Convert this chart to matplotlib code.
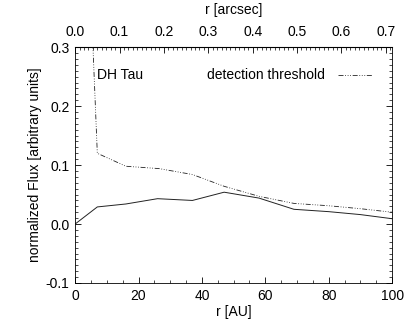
import numpy as np
import matplotlib.pyplot as plt
from matplotlib.ticker import MultipleLocator, FixedLocator, FormatStrFormatter

plt.rcParams['font.family'] = ['Liberation Sans', 'DejaVu Sans']
plt.rcParams['font.size'] = 10

# DH Tau radial profile (AU, normalized flux)
r_au = [0, 7, 16, 26, 37, 47, 58, 69, 80, 90, 100]
flux = [0.0, 0.029, 0.034, 0.043, 0.040, 0.054, 0.044, 0.025, 0.021, 0.016, 0.009]

# detection threshold
r_thr = [5.4, 7, 16, 26.5, 37, 47, 58, 69, 80, 90, 100]
thr = [0.33, 0.12, 0.098, 0.094, 0.084, 0.064, 0.047, 0.035, 0.031, 0.026, 0.020]

# top axis ticks (arcsec)
arcsec_ticks = [0.0, 0.1, 0.2, 0.3, 0.4, 0.5, 0.6, 0.7]

dist_pc = 140.0  # AU per arcsec

fig = plt.figure(figsize=(4.15, 3.32), dpi=100)
ax = fig.add_axes([0.181, 0.1476, 0.764, 0.7104])

ax.plot(r_au, flux, color='#222222', lw=0.7)
thr_line, = ax.plot(r_thr, thr, color='#222222', lw=0.6,
                    dashes=(6, 2, 1, 2, 1, 2, 1, 2))

ax.set_xlim(0, 100)
ax.set_ylim(-0.1, 0.3)
ax.xaxis.set_major_locator(MultipleLocator(20))
ax.xaxis.set_minor_locator(MultipleLocator(5))
ax.yaxis.set_major_locator(MultipleLocator(0.1))
ax.yaxis.set_minor_locator(MultipleLocator(0.01))
ax.yaxis.set_major_formatter(FormatStrFormatter('%.1f'))
ax.tick_params(which='both', direction='in', top=False, right=True)
ax.tick_params(which='major', length=4, width=0.6, pad=4)
ax.tick_params(which='minor', length=2.2, width=0.5)
for s in ax.spines.values():
    s.set_linewidth(0.6)

ax.set_xlabel('r [AU]', labelpad=2)
ax.set_ylabel('normalized Flux [arbitrary units]', labelpad=3)

top = ax.secondary_xaxis('top', functions=(lambda x: x / dist_pc, lambda x: x * dist_pc))
top.xaxis.set_major_locator(FixedLocator(arcsec_ticks))
top.xaxis.set_minor_locator(FixedLocator(np.arange(0, 0.715, 0.01)))
top.xaxis.set_major_formatter(FormatStrFormatter('%.1f'))
top.tick_params(which='both', direction='in')
top.tick_params(which='major', length=4, width=0.6, pad=6)
top.tick_params(which='minor', length=2.2, width=0.5)
top.set_xlabel('r [arcsec]', labelpad=8)

ax.text(0.069, 0.88, 'DH Tau', transform=ax.transAxes, va='center')
ax.legend([thr_line], ['detection threshold'], loc='center right',
          bbox_to_anchor=(0.94, 0.88), frameon=False, markerfirst=False,
          handlelength=2.5, handletextpad=1.0, borderaxespad=0.0,
          borderpad=0.0)

fig.savefig('out.png', dpi=100)
